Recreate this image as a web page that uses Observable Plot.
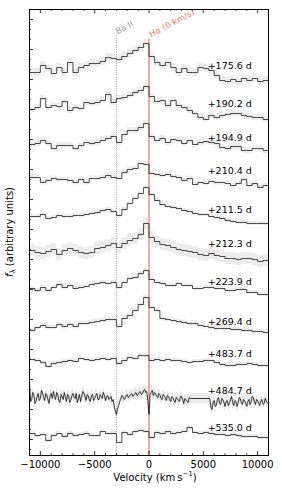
<!DOCTYPE html>
<html><head><meta charset="utf-8">
<script src="https://cdn.jsdelivr.net/npm/d3@7"></script>
<script src="https://cdn.jsdelivr.net/npm/@observablehq/plot@0.6"></script>
<style>body{margin:0;background:#fff;} svg{display:block;}</style>
</head><body><div id="chart"></div>
<script>
// epochs (labels), vertical offsets and noise level of each spectrum
const labels = ["+175.6 d","+190.2 d","+194.9 d","+210.4 d","+211.5 d","+212.3 d","+223.9 d","+269.4 d","+483.7 d","+484.7 d","+535.0 d"];
const offsets = [383, 345, 311, 278, 239, 205, 167, 127, 95, 58, 21];
const noise = [4, 3, 3, 2.5, 2, 6, 2, 2.5, 2, 5, 2];

// binned spectra: 500 km/s bins from -11000 to 11000 km/s (relative flux)
const binStart = -11000, binWidth = 500;
const s175 = [0,0,7,4,-1,5,0,10,0,5, 7,9,9,11,15,14,13,16,19,22, 25,29,16,10,7,10,5,0,4,0, 0,5,4,2,-3,-8,-9,-7,-9,-6, -8,-6,-9,-8];
const s190 = [1,3,12,3,5,4,9,0,3,2, 8,7,8,10,16,8,12,13,15,18, 20,24,14,9,10,5,10,5,3,0, -3,-7,-9,-5,-7,-5,-4,-3,-3,-5, -6,-7,-7,-9];
const s194 = [0,1,4,1,-4,-1,-1,-1,-4,-1, 2,1,2,4,6,8,2,10,14,14, 17,21,8,4,6,2,5,4,1,4, 0,2,3,2,1,-3,-4,-2,-2,-6, -6,-4,-4,-6];
const s210 = [0,0,-5,-3,-1,-2,-2,-3,-5,-2, -5,-1,-1,0,2,0,-1,5,8,9, 14,13,4,3,2,3,1,0,-3,-1, -7,-5,-6,-4,-5,-5,-6,-8,-6,-2, -8,-6,-10,-8];
const s211 = [0,0,2,-2,-1,1,0,0,1,1, 2,3,4,6,7,5,1,7,13,18, 23,29,22,16,12,10,9,8,6,5, 3,2,2,0,-1,-2,-4,-5,-6,-6, -7,-7,-7,-7];
const s212 = [0,-2,-3,-1,1,-4,0,2,0,-2, -3,-2,2,3,5,7,3,7,10,12, 16,27,13,9,6,5,3,1,0,-1, -2,-4,-5,-3,-5,-6,-8,-8,-9,-8, -8,-9,-11,-10];
const s223 = [0,-2,1,-2,1,4,1,3,0,1, 2,4,5,6,5,6,1,6,10,11, 15,18,9,6,5,3,3,5,3,3, 0,0,1,1,0,0,-2,-2,-1,-1, -4,-4,-6,-6];
const s269 = [-2,1,3,1,1,4,2,4,2,5, 5,6,7,8,9,9,2,10,13,18, 24,31,21,18,10,9,8,7,6,5, 5,3,2,1,0,0,0,-1,-1,-2, -2,-3,-3,-4];
const s483 = [1,0,-2,-6,-3,-2,-1,0,-1,2, 1,0,1,2,1,2,-3,0,3,2, 5,5,0,1,0,1,0,0,-1,-2, -1,-1,0,0,-2,-4,-5,-5,-4,-4, -3,-4,-5,-5];
const s535 = [1,-1,0,-6,-1,1,-2,1,-1,0, 1,-1,-1,3,1,1,-8,2,0,3, 4,3,-3,2,1,3,1,2,3,7, 2,1,2,1,0,0,-1,0,-1,-2, -2,-2,-3,-3];
const binned = [s175, s190, s194, s210, s211, s212, s223, s269, s483, null, s535];

// unbinned +484.7 d spectrum, 100 km/s sampling, gap between 3800 and 5600 km/s
const v484 = d3.range(-11000, 3801, 100).concat(d3.range(5600, 11001, 100));
const s484 = [
  14,-4,-2,5,3,-6,-4,1,4,-3,
  -1,7,5,0,-3,4,2,-2,-6,2,
  4,-1,6,1,-2,5,3,-3,-5,3,
  1,-2,5,1,-4,3,2,-5,-3,2,
  4,0,-1,4,-5,-1,3,-4,0,6,
  5,1,-3,3,2,-2,-4,2,3,-3,
  -1,2,4,-2,-2,3,1,-1,5,2,
  -3,1,2,-2,-1,1,-4,-2,-9,-13,
  -17,-12,-8,-4,-2,2,1,-2,-1,2,
  3,0,1,3,4,1,2,4,5,2,
  3,5,6,3,4,7,8,5,6,-4,
  -17,3,5,7,2,5,4,1,0,4,
  3,-1,-2,3,2,0,-3,2,1,-2,
  -4,1,0,-3,-5,0,-1,-3,-4,1,
  1,-2,-6,-1,-2,-4,-5,0,-1,
  -1,-10,-12,-5,-3,-9,-8,-2,0,-6,
  -7,-1,-2,-5,-9,-4,-3,-8,-6,-2,
  1,-5,-8,-3,-4,-9,-6,0,-1,-5,
  -7,-2,-3,-6,-9,-4,-2,-7,-5,1,
  0,-4,-7,-2,-3,-6,-8,-3,-2,-7,
  -6,-1,-4,-5,-7];

// line markers
const lineNames = ["Ba II", "H\u03b1 (0 km/s)"];
const lineVel = [-3000, 0];
const lineTop = [420, 416];

// axes
const xMajor = [-10000, -5000, 0, 5000, 10000];
const xTickLabels = ["\u221210000", "\u22125000", "0", "5000", "10000"];
const xMinor = d3.range(-11000, 11001, 1000).filter(v => v % 5000 !== 0);
const yMajor = d3.range(16, 446, 30);
const yMinor = d3.range(6, 446, 10).filter(v => (v - 16) % 30 !== 0);

const binRows = [];
binned.forEach((arr, k) => {
  if (!arr) return;
  arr.forEach((f, i) => binRows.push({k, v: binStart + i * binWidth, f: offsets[k] + f}));
  binRows.push({k, v: binStart + arr.length * binWidth, f: offsets[k] + arr[arr.length - 1]});
});
const hiRows = s484.map((f, i) => ({k: 9, v: v484[i], f: offsets[9] + f}));

const pxPerV = 239 / 22000; // only used for tick lengths in data units
const tk = (px) => px / pxPerV;

const plot = Plot.plot({
  width: 282, height: 490,
  marginTop: 9, marginBottom: 35, marginLeft: 29, marginRight: 14,
  x: {domain: [-11000, 11000], axis: null},
  y: {domain: [0, 446], axis: null},
  style: {fontFamily: "DejaVu Sans", fontSize: "10px", background: "#fff"},
  marks: [
    Plot.areaY(binRows, {x: "v", y1: d => d.f - noise[d.k], y2: d => d.f + noise[d.k], z: "k", fill: "#ececec", curve: "step-after"}),
    Plot.areaY(hiRows, {x: "v", y1: d => d.f - noise[d.k], y2: d => d.f + noise[d.k], z: "k", fill: "#e8e8e8"}),
    Plot.ruleX([0], {x: d => lineVel[d], y1: 0, y2: d => lineTop[d], stroke: "#9a9a9a", strokeWidth: 1, strokeDasharray: "1,1.3"}),
    Plot.ruleX([1], {x: d => lineVel[d], y1: 0, y2: d => lineTop[d], stroke: "#f5a097", strokeWidth: 1.8}),
    Plot.lineY(binRows, {x: "v", y: "f", z: "k", stroke: "#383838", strokeWidth: 0.9, curve: "step-after"}),
    Plot.lineY(hiRows, {x: "v", y: "f", stroke: "#000", strokeWidth: 0.75}),
    Plot.text(labels, {x: 5400, y: (d, i) => offsets[i] + 7, text: d => d, textAnchor: "start", fontSize: 9.5, fill: "#000"}),
    Plot.text([0], {x: d => lineVel[d], y: d => lineTop[d] + 1, text: d => lineNames[d], rotate: -28, textAnchor: "start", lineAnchor: "bottom", dx: 1, fontSize: 8.5, fill: "#999"}),
    Plot.text([1], {x: d => lineVel[d], y: d => lineTop[d] + 2, text: d => lineNames[d], rotate: -28, textAnchor: "start", lineAnchor: "bottom", dx: 2, fontSize: 8.5, fill: "#f2796b"}),
    // ticks pointing inwards
    Plot.ruleX(xMajor, {x: d => d, y1: 0, y2: 4, stroke: "#000", strokeWidth: 0.8}),
    Plot.ruleX(xMajor, {x: d => d, y1: 442, y2: 446, stroke: "#000", strokeWidth: 0.8}),
    Plot.ruleX(xMinor, {x: d => d, y1: 0, y2: 2, stroke: "#000", strokeWidth: 0.7}),
    Plot.ruleX(xMinor, {x: d => d, y1: 444, y2: 446, stroke: "#000", strokeWidth: 0.7}),
    Plot.ruleY(yMajor, {y: d => d, x1: -11000, x2: -11000 + tk(4), stroke: "#000", strokeWidth: 0.8}),
    Plot.ruleY(yMinor, {y: d => d, x1: -11000, x2: -11000 + tk(2), stroke: "#000", strokeWidth: 0.7}),
    Plot.text(xMajor, {x: d => d, y: 0, dy: 9, text: (d, i) => xTickLabels[i], lineAnchor: "middle", fontSize: 10, fill: "#000"}),
    Plot.frame({stroke: "#000", strokeWidth: 1})
  ]
});
document.getElementById("chart").appendChild(plot);

const svg = d3.select(plot);
const xl = svg.append("text").attr("x", 155).attr("y", 478).attr("text-anchor", "middle")
  .attr("dominant-baseline", "middle").attr("font-family", "DejaVu Sans").attr("font-size", 10).attr("fill", "#000");
xl.append("tspan").text("Velocity (km\u2009s");
xl.append("tspan").attr("font-size", 7).attr("dy", -4).text("\u22121");
xl.append("tspan").attr("dy", 4).text(")");

const yl = svg.append("text").attr("transform", "translate(10,232) rotate(-90)").attr("text-anchor", "middle")
  .attr("dominant-baseline", "middle").attr("font-family", "DejaVu Sans").attr("font-size", 10).attr("fill", "#000");
yl.append("tspan").attr("font-style", "italic").text("f");
yl.append("tspan").attr("font-size", 7).attr("dy", 2.5).text("\u03bb");
yl.append("tspan").attr("dy", -2.5).text(" (arbitrary units)");
</script>
</body></html>
